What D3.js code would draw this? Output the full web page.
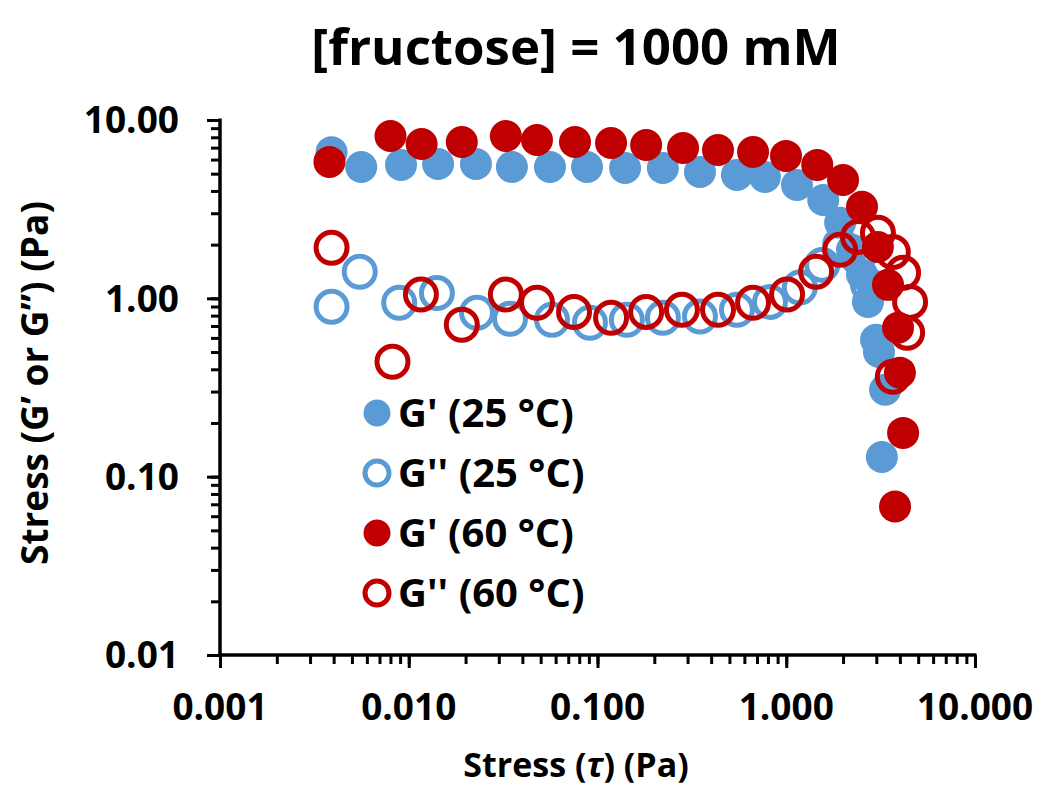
<!DOCTYPE html>
<html lang="en">
<head>
  <meta charset="UTF-8">
  <title>[fructose] = 1000 mM</title>
  <script src="https://cdn.jsdelivr.net/npm/d3@7"></script>
  <style>
    body { margin: 0; background: #fff; }
    text { font-family: "Open Sans", "Liberation Sans", sans-serif; font-weight: bold; fill: #000; }
  </style>
</head>
<body>
<div id="grafica"></div>

<script>
// data: [stress τ (Pa), modulus (Pa)]
const gp25 = [
  [0.0039, 6.6], [0.0056, 5.45], [0.0091, 5.6], [0.0143, 5.67], [0.0227, 5.67],
  [0.0352, 5.45], [0.056, 5.45], [0.088, 5.45], [0.14, 5.38], [0.222, 5.38],
  [0.349, 5.11], [0.548, 4.92], [0.771, 4.79], [1.14, 4.32], [1.57, 3.56],
  [1.93, 2.65], [2.23, 1.87], [2.52, 1.36], [2.71, 0.955], [2.99, 0.586],
  [3.10, 0.50], [3.34, 0.307], [3.21, 0.129]
]
const gpp25 = [
  [0.0039, 0.896], [0.0055, 1.41], [0.0089, 0.944], [0.0141, 1.07], [0.023, 0.83],
  [0.0344, 0.768], [0.0574, 0.758], [0.0912, 0.729], [0.143, 0.758], [0.222, 0.778],
  [0.349, 0.79], [0.548, 0.862], [0.82, 0.955], [1.18, 1.15], [1.55, 1.54],
  [1.93, 2.0], [2.40, 1.69], [2.71, 1.19]
]
const gp60 = [
  [0.0038, 5.82], [0.0080, 8.13], [0.0117, 7.33], [0.0191, 7.53], [0.0327, 8.13],
  [0.0478, 7.73], [0.076, 7.53], [0.118, 7.43], [0.181, 7.24], [0.284, 6.97],
  [0.435, 6.79], [0.667, 6.62], [0.997, 6.29], [1.46, 5.60], [2.0, 4.61],
  [2.52, 3.26], [3.06, 1.94], [3.46, 1.19], [3.91, 0.684], [4.0, 0.383],
  [4.16, 0.176], [3.77, 0.068]
]
const gpp60 = [
  [0.0039, 1.92], [0.0082, 0.441], [0.0116, 1.05], [0.0191, 0.711], [0.0327, 1.05],
  [0.0478, 0.944], [0.0751, 0.839], [0.118, 0.778], [0.181, 0.839], [0.28, 0.862],
  [0.435, 0.862], [0.667, 0.944], [1.01, 1.05], [1.44, 1.41], [1.93, 1.87],
  [2.40, 2.21], [3.06, 2.33], [3.67, 1.82], [4.16, 1.39], [4.53, 0.955],
  [4.37, 0.641], [3.67, 0.363]
]

const seriesNames = ["G' (25 °C)", "G'' (25 °C)", "G' (60 °C)", "G'' (60 °C)"]
const xTicks = [0.001, 0.01, 0.1, 1, 10]
const xTickLabels = ['0.001', '0.010', '0.100', '1.000', '10.000']
const yTicks = [0.01, 0.1, 1, 10]
const yTickLabels = ['0.01', '0.10', '1.00', '10.00']

const blue = '#5B9BD5'
const red = '#C00000'

const ancho_total = 1043
const alto_total = 789
const margin = {left: 220, right: 68, top: 120, bottom: 134}
const ancho = ancho_total - margin.left - margin.right
const alto = alto_total - margin.top - margin.bottom

const svg = d3.select('#grafica')
  .append('svg')
  .attr('width', ancho_total)
  .attr('height', alto_total)

const g = svg.append('g')
  .attr('transform', `translate(${margin.left}, ${margin.top})`)

const x = d3.scaleLog().domain([0.001, 10]).range([0, ancho])
const y = d3.scaleLog().domain([0.01, 10]).range([alto, 0])

// title
svg.append('text')
  .attr('x', 576).attr('y', 45)
  .attr('text-anchor', 'middle')
  .attr('dominant-baseline', 'central')
  .style('font-size', '51px')
  .text('[fructose] = 1000 mM')

// axes: minor ticks, then major ticks, then the lines
function styleAxis(sel) {
  sel.select('.domain').remove()
  sel.selectAll('line').attr('stroke', '#000').attr('stroke-width', 3)
}

g.append('g')
  .attr('transform', `translate(0, ${alto})`)
  .call(d3.axisBottom(x).tickValues(x.ticks()).tickFormat('').tickSize(9))
  .call(styleAxis)
g.append('g')
  .attr('transform', `translate(0, ${alto})`)
  .call(d3.axisBottom(x).tickValues(xTicks).tickFormat('').tickSize(13))
  .call(styleAxis)
g.append('g')
  .call(d3.axisLeft(y).tickValues(y.ticks()).tickFormat('').tickSize(9))
  .call(styleAxis)
g.append('g')
  .call(d3.axisLeft(y).tickValues(yTicks).tickFormat('').tickSize(13))
  .call(styleAxis)

g.append('line')
  .attr('x1', -1.5).attr('x2', ancho + 1.5).attr('y1', alto).attr('y2', alto)
  .attr('stroke', '#000').attr('stroke-width', 3.5)
g.append('line')
  .attr('x1', 0).attr('x2', 0).attr('y1', -1.5).attr('y2', alto)
  .attr('stroke', '#000').attr('stroke-width', 3.5)

// tick labels
g.selectAll('.xlab')
  .data(xTicks)
  .enter()
  .append('text')
    .attr('class', 'xlab')
    .attr('x', d => x(d))
    .attr('y', alto + 65)
    .attr('text-anchor', 'middle')
    .style('font-size', '37px')
    .text((d, i) => xTickLabels[i])

g.selectAll('.ylab')
  .data(yTicks)
  .enter()
  .append('text')
    .attr('class', 'ylab')
    .attr('x', -41)
    .attr('y', d => y(d))
    .attr('dy', '0.36em')
    .attr('text-anchor', 'end')
    .style('font-size', '37px')
    .text((d, i) => yTickLabels[i])

// axis titles
const xt = svg.append('text')
  .attr('x', 576).attr('y', 777)
  .attr('text-anchor', 'middle')
  .style('font-size', '34px')
xt.append('tspan').text('Stress (')
xt.append('tspan').style('font-style', 'italic').text('τ')
xt.append('tspan').text(') (Pa)')

svg.append('text')
  .attr('transform', 'translate(48, 383) rotate(-90)')
  .attr('text-anchor', 'middle')
  .style('font-size', '37px')
  .text('Stress (G\u2019 or G\u201D) (Pa)')

// markers
const series = [
  {data: gp25, color: blue, open: false},
  {data: gpp25, color: blue, open: true},
  {data: gp60, color: red, open: false},
  {data: gpp60, color: red, open: true}
]

series.forEach(s => {
  g.append('g')
    .selectAll('circle')
    .data(s.data)
    .enter()
    .append('circle')
      .attr('cx', d => x(d[0]))
      .attr('cy', d => y(d[1]))
      .attr('r', s.open ? 15.5 : 16)
      .attr('fill', s.open ? 'none' : s.color)
      .attr('stroke', s.open ? s.color : 'none')
      .attr('stroke-width', 5)
})

// legend
const legend = svg.append('g').attr('transform', 'translate(377, 413)')
const leg = legend.selectAll('g')
  .data(series)
  .enter()
  .append('g')
    .attr('transform', (d, i) => `translate(0, ${i * 60})`)

leg.append('circle')
  .attr('r', d => d.open ? 12 : 13.5)
  .attr('fill', d => d.open ? 'none' : d.color)
  .attr('stroke', d => d.open ? d.color : 'none')
  .attr('stroke-width', 5)

leg.append('text')
  .attr('x', 21)
  .attr('dy', '0.36em')
  .style('font-size', '40px')
  .text((d, i) => seriesNames[i])
</script>
</body>
</html>
